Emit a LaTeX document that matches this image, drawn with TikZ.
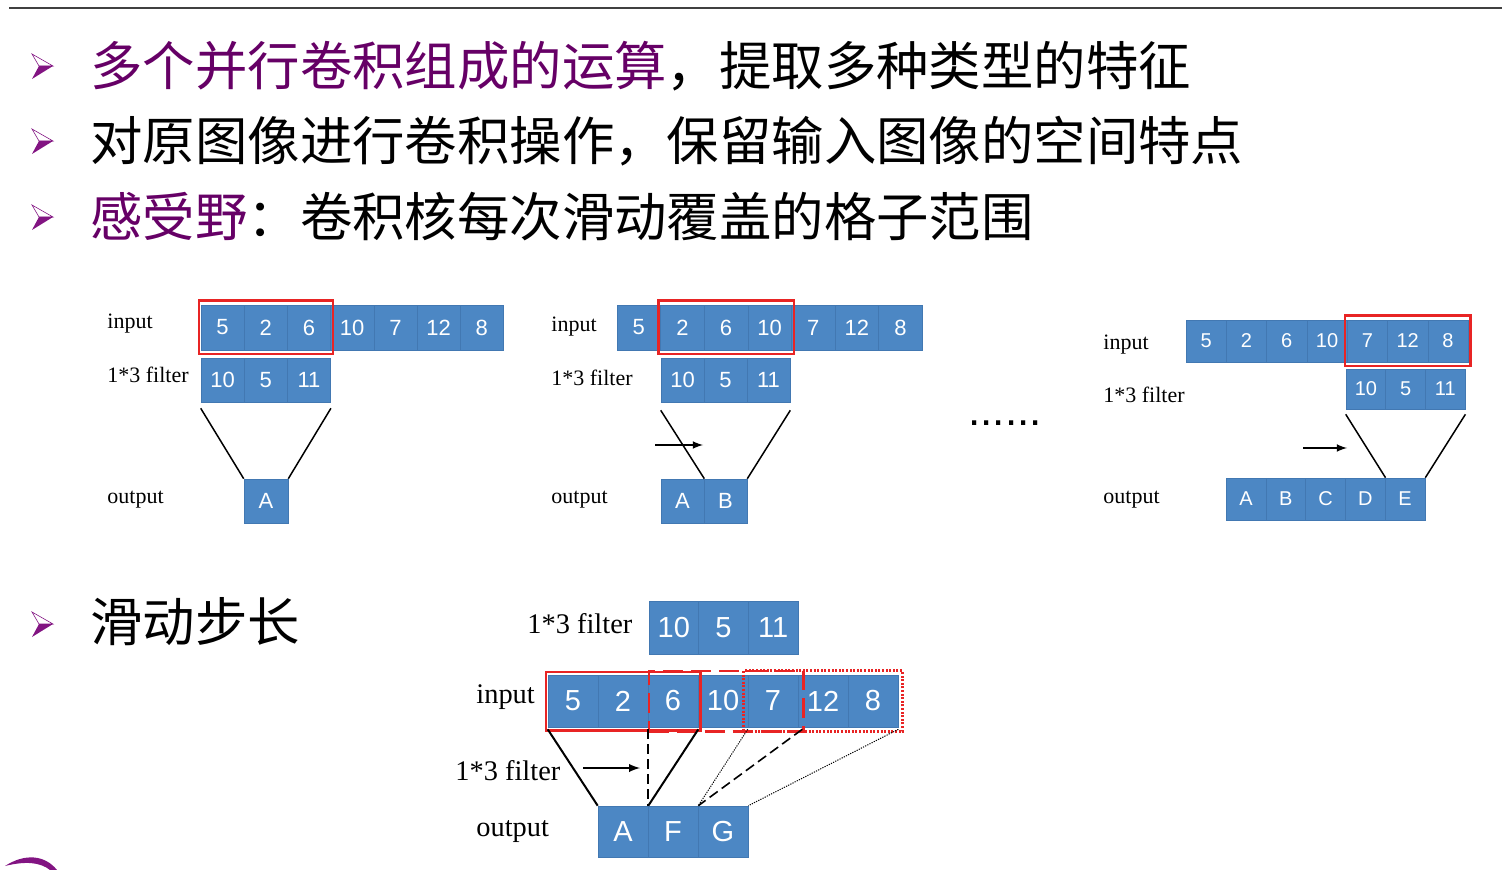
\documentclass[tikz,border=0pt]{standalone}
\usepackage{fontspec}
\setmainfont{Liberation Serif}
\setsansfont{Liberation Sans}
\newfontfamily\cjk{Noto Sans CJK SC}
\usetikzlibrary{arrows,positioning,fit,calc}
\definecolor{cellblue}{RGB}{76,135,196}
\definecolor{cellline}{RGB}{66,120,178}
\definecolor{boxred}{RGB}{232,36,36}
\definecolor{titlepurple}{RGB}{102,0,102}
\definecolor{bulletpurple}{RGB}{130,20,130}
\tikzset{
  cell/.style 2 args={draw=cellline, line width=0.3pt, fill=cellblue, text=white, inner sep=0pt, minimum width=#1, minimum height=#2},
  num/.style={font=\sffamily\fontsize{#1}{#1}\selectfont},
  redbox/.style={draw=boxred, line width=1.2pt, inner xsep=1pt, inner ysep=2pt},
  lbl/.style={anchor=west, inner sep=0pt, font=\fontsize{#1}{#1}\selectfont},
  title/.style={anchor=west, inner sep=0pt, font=\cjk\fontsize{26.2}{30}\selectfont},
  link/.style={line width=#1},
  bul/.pic={
    \filldraw[fill=white, draw=bulletpurple, line width=0.3pt] (-10,-12) -- (11,0) -- (-3,0) -- cycle;
    \fill[bulletpurple] (-3,0) -- (11,0) -- (-10,13) -- cycle;
  }
}
\begin{document}
\begin{tikzpicture}[x=0.5pt, y=-0.5pt]
\useasboundingbox (0,0) rectangle (1502,870);
\draw[line width=1pt, black!75] (9,8) -- (1502,8);
% title lines
\pic at (42,66) {bul};
\pic at (42,141) {bul};
\pic at (42,217) {bul};
\pic at (42,624) {bul};
\node[title] (t1) at (90,66) {\textcolor{titlepurple}{多个并行卷积组成的运算}，提取多种类型的特征};
\node[title] (t2) at (90,141) {对原图像进行卷积操作，保留输入图像的空间特点};
\node[title] (t3) at (90,217) {\textcolor{titlepurple}{感受野}：卷积核每次滑动覆盖的格子范围};
\node[title] (t4) at (90,622) {滑动步长};
\fill[bulletpurple] (5,866) .. controls (25,853) and (45,855) .. (57,870) -- (50,870) .. controls (40,862) and (25,861) .. (5,866);

% first step
\foreach \v [count=\i] in {5,2,6,10,7,12,8}
  \node[cell={21.6pt}{22.5pt}, num=11] (ia\i) at ({201+(\i-0.5)*43.2},327.5) {\v};
\foreach \v [count=\i] in {10,5,11}
  \node[cell={21.6pt}{22pt}, num=11] (fa\i) at ({201+(\i-0.5)*43.2},380) {\v};
\node[cell={22pt}{22pt}, num=11] (oa1) at (266,501) {A};
\node[redbox, fit=(ia1)(ia3)] (ra) {};
\node[lbl=11] (lia) at (107,324) {input};
\node[lbl=11] (lfa) at (107,375) {1*3 filter};
\node[lbl=11] (loa) at (107,500) {output};
\draw[link=0.75pt] ([yshift=-3pt]fa1.south west) -- (oa1.north west);
\draw[link=0.75pt] ([yshift=-3pt]fa3.south east) -- (oa1.north east);

% second step
\foreach \v [count=\i] in {5,2,6,10,7,12,8}
  \node[cell={21.8pt}{22.5pt}, num=11] (ib\i) at ({617+(\i-0.5)*43.6},327.5) {\v};
\foreach \v [count=\i] in {10,5,11}
  \node[cell={21.5pt}{22pt}, num=11] (fb\i) at ({661+(\i-0.5)*43},380) {\v};
\foreach \v [count=\i] in {A,B}
  \node[cell={21.5pt}{22pt}, num=11] (ob\i) at ({661+(\i-0.5)*43},501) {\v};
\node[redbox, fit=(ib2)(ib4)] (rb) {};
\node[lbl=11] (lib) at (551,327) {input};
\node[lbl=11] (lfb) at (551,378) {1*3 filter};
\node[lbl=11] (lob) at (551,500) {output};
\draw[link=0.75pt] ([yshift=-4pt]fb1.south west) -- (ob1.north east);
\draw[link=0.75pt] ([yshift=-4pt]fb3.south east) -- (ob2.north east);
\coordinate (sb) at (655,445);
\coordinate (eb) at (703,445);
\draw[link=0.75pt, -latex] (sb) -- (eb);
\node[num=22, inner sep=0pt] (dots) at (1005,423) {......};

% last step
\foreach \v [count=\i] in {5,2,6,10,7,12,8}
  \node[cell={20.15pt}{21pt}, num=10] (ic\i) at ({1186+(\i-0.5)*40.3},341) {\v};
\foreach \v [count=\i] in {10,5,11}
  \node[cell={19.85pt}{20pt}, num=10] (fc\i) at ({1346+(\i-0.5)*39.7},389) {\v};
\foreach \v [count=\i] in {A,B,C,D,E}
  \node[cell={19.9pt}{21pt}, num=10] (oc\i) at ({1226+(\i-0.5)*39.8},499) {\v};
\node[redbox, fit=(ic5)(ic7)] (rc) {};
\node[lbl=11] (lic) at (1103,345) {input};
\node[lbl=11] (lfc) at (1103,395) {1*3 filter};
\node[lbl=11] (loc) at (1103,500) {output};
\draw[link=0.75pt] ([yshift=-2.5pt]fc1.south west) -- (oc4.north east);
\draw[link=0.75pt] ([yshift=-2.5pt]fc3.south east) -- (oc5.north east);
\coordinate (sc) at (1303,448);
\coordinate (ec) at (1347,448);
\draw[link=0.75pt, -latex] (sc) -- (ec);

% stride
\foreach \v [count=\i] in {10,5,11}
  \node[cell={24.85pt}{26.5pt}, num=14.5] (fd\i) at ({649+(\i-0.5)*49.7},627.5) {\v};
\foreach \v [count=\i] in {5,2,6,10,7,12,8}
  \node[cell={25pt}{26pt}, num=14.5] (id\i) at ({548+(\i-0.5)*50},701) {\v};
\foreach \v [count=\i] in {A,F,G}
  \node[cell={25pt}{25.5pt}, num=14.5] (od\i) at ({598+(\i-0.5)*50},831.5) {\v};
\node[redbox, fit=(id3)(id5), xshift=1.5pt, dash pattern=on 10pt off 4pt] (rd2) {};
\node[redbox, fit=(id5)(id7), inner xsep=2pt, line width=1.4pt, dash pattern=on 1pt off 0.8pt] (rd3) {};
\node[redbox, fit=(id1)(id3), inner ysep=1.5pt] (rd1) {};
\node[lbl=14.2] (lfd) at (527,624) {1*3 filter};
\node[lbl=14.2] (lid) at (476,697) {input};
\node[lbl=14.2] (lfe) at (455,771) {1*3 filter};
\node[lbl=14.2] (lod) at (476,832) {output};
\draw[link=1pt] ([yshift=-1pt]id1.south west) -- (od1.north west);
\draw[link=1pt] ([yshift=-1pt]id3.south east) -- (od1.north east);
\draw[link=0.8pt, dash pattern=on 5pt off 2.5pt] ([yshift=-1pt]id3.south west) -- (od2.north west);
\draw[link=0.8pt, dash pattern=on 5pt off 2.5pt] ([xshift=2pt,yshift=-1pt]id5.south east) -- (od2.north east);
\draw[link=0.5pt, dash pattern=on 0.6pt off 0.6pt] ([yshift=-1pt]id5.south west) -- (od2.north east);
\draw[link=0.5pt, dash pattern=on 0.6pt off 0.6pt] ([yshift=-1pt]id7.south east) -- (od3.north east);
\coordinate (sd) at (583,768);
\coordinate (ed) at (640,768);
\draw[link=0.9pt, -latex] (sd) -- (ed);
\end{tikzpicture}
\end{document}
